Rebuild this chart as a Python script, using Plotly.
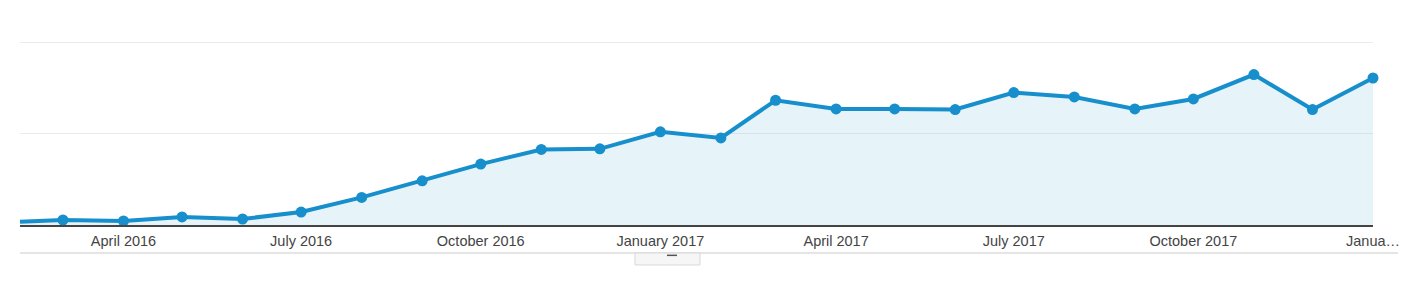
import plotly.graph_objects as go

# Data (monthly values, arbitrary units; gridlines at 1000 and 2000)
dates = ["2016-02-08", "2016-03-01", "2016-04-01", "2016-05-01", "2016-06-01", "2016-07-01",
         "2016-08-01", "2016-09-01", "2016-10-01", "2016-11-01", "2016-12-01", "2017-01-01",
         "2017-02-01", "2017-03-01", "2017-04-01", "2017-05-01", "2017-06-01", "2017-07-01",
         "2017-08-01", "2017-09-01", "2017-10-01", "2017-11-01", "2017-12-01", "2018-01-01"]
values = [36, 55, 44, 88, 66, 142, 303, 485, 668, 829, 836, 1022,
          956, 1369, 1274, 1274, 1267, 1453, 1405, 1274, 1383, 1651, 1267, 1613]

tick_vals = ["2016-04-01", "2016-07-01", "2016-10-01", "2017-01-01",
             "2017-04-01", "2017-07-01", "2017-10-01", "2018-01-01"]
tick_text = ["April 2016", "July 2016", "October 2016", "January 2017",
             "April 2017", "July 2017", "October 2017", "Janua\u2026"]

LINE = "#168fcc"
sizes = [0] + [11] * (len(values) - 1)

fig = go.Figure()
fig.add_trace(go.Scatter(
    x=dates, y=values, mode="lines+markers",
    line=dict(color=LINE, width=4),
    marker=dict(color=LINE, size=sizes, opacity=1, line=dict(width=0)),
    fill="tozeroy", fillcolor="rgba(5,141,199,0.10)",
    cliponaxis=False, hoverinfo="skip",
))

fig.update_layout(
    width=1414, height=282,
    margin=dict(l=20, r=41, t=40, b=57),
    paper_bgcolor="white", plot_bgcolor="white",
    showlegend=False,
    font=dict(family="Liberation Sans, Arial, sans-serif", size=14.5, color="#444"),
    xaxis=dict(
        type="date", range=[dates[0], dates[-1]],
        tickmode="array", tickvals=tick_vals, ticktext=tick_text,
        showgrid=False, zeroline=False, showline=True, linecolor="#444", linewidth=1.5,
        ticks="outside", ticklen=2, tickcolor="rgba(0,0,0,0)",
    ),
    yaxis=dict(
        range=[0, 2030], tickmode="array", tickvals=[1000, 2000], showticklabels=False,
        showgrid=True, gridcolor="#ececec", gridwidth=1,
        zeroline=False, showline=False,
    ),
    shapes=[
        dict(type="line", xref="paper", yref="paper", x0=0, x1=1.0185, y0=-0.1514, y1=-0.1514,
             line=dict(color="#dddddd", width=1.5)),
        dict(type="rect", xref="paper", yref="paper", x0=0.4545, x1=0.5026, y0=-0.1514, y1=-0.216,
             fillcolor="#f6f6f6", line=dict(color="#d8d8d8", width=1)),
        dict(type="line", xref="paper", yref="paper", x0=0.4782, x1=0.4856, y0=-0.164, y1=-0.164,
             line=dict(color="#555555", width=1.5)),
    ],
)

fig.write_html("out.html", config={"displayModeBar": False})
